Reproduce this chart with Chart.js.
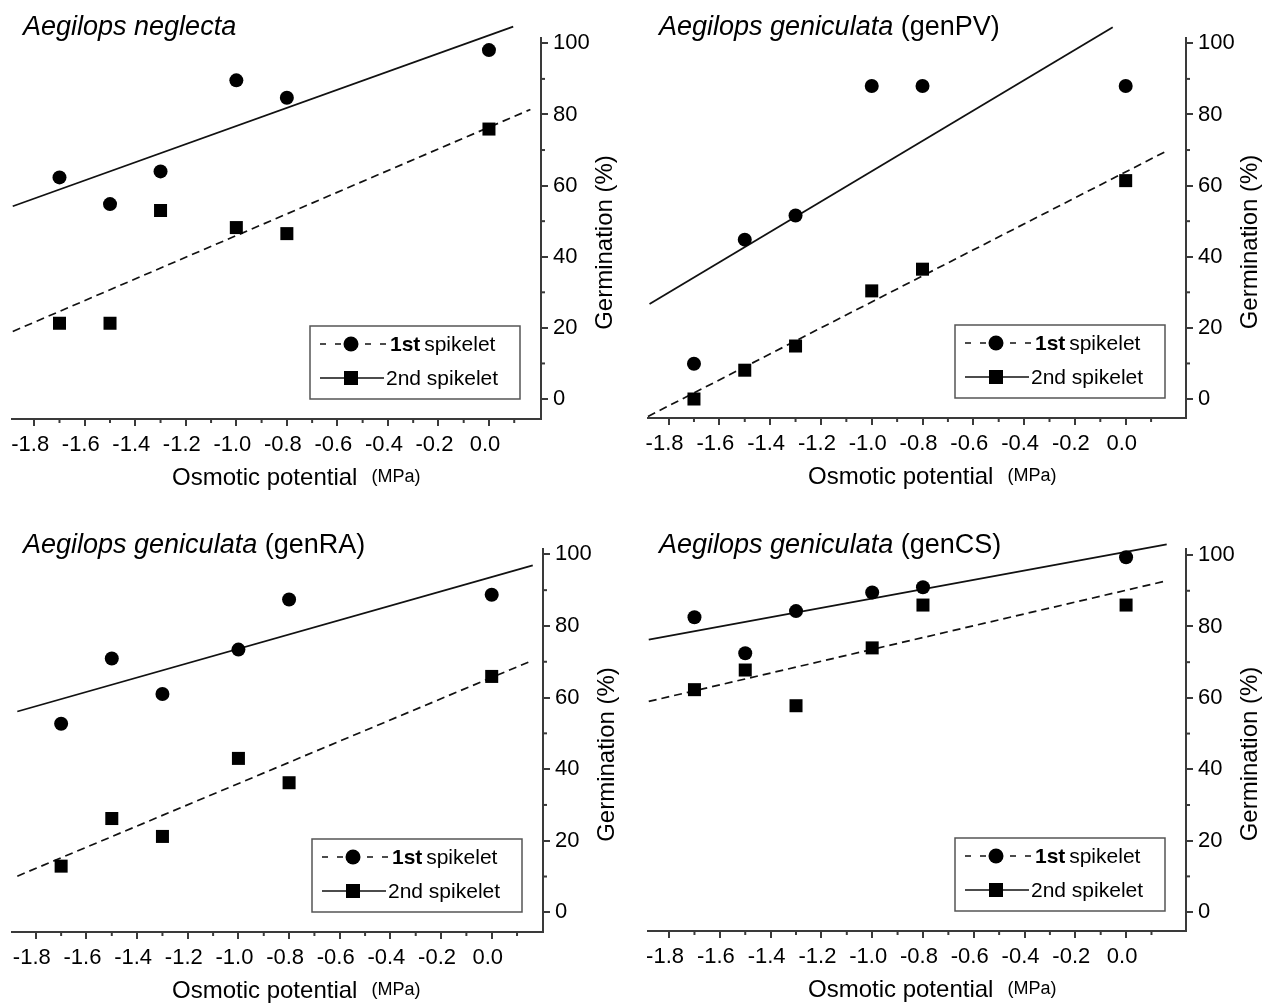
<!DOCTYPE html>
<html>
<head>
<meta charset="utf-8">
<script src="https://cdn.jsdelivr.net/npm/chart.js@4.4.1/dist/chart.umd.min.js"></script>
<style>
    html, body { margin: 0; padding: 0; background: #fff; }
    #wrap { position: relative; width: 1275px; height: 1003px; overflow: hidden; }
    #wrap canvas { position: absolute; left: 0; top: 0; }
</style>
</head>
<body>
<div id="wrap">
    <canvas id="c1" width="1275" height="1003"></canvas>
    <canvas id="c2" width="1275" height="1003"></canvas>
    <canvas id="c3" width="1275" height="1003"></canvas>
    <canvas id="c4" width="1275" height="1003"></canvas>
</div>
<script>
// osmotic potential levels (MPa)
const xValues = [-1.7, -1.5, -1.3, -1.0, -0.8, 0.0];
const xTicks = [-1.8, -1.6, -1.4, -1.2, -1.0, -0.8, -0.6, -0.4, -0.2, 0.0];
const xTickLabels = ['-1.8', '-1.6', '-1.4', '-1.2', '-1.0', '-0.8', '-0.6', '-0.4', '-0.2', '0.0'];
const xMinorTicks = [-1.7, -1.5, -1.3, -1.1, -0.9, -0.7, -0.5, -0.3, -0.1, 0.1];
const yTicks = [0, 20, 40, 60, 80, 100];
const yTickLabels = ['0', '20', '40', '60', '80', '100'];
const yMinorTicks = [10, 30, 50, 70, 90];

// Aegilops neglecta
const neglectaCircles = [62.3, 54.8, 64.0, 89.6, 84.7, 98.1];
const neglectaSquares = [21.3, 21.3, 53.0, 48.2, 46.5, 75.9];
const neglectaSolidFit = [[-1.885, 54.2], [0.096, 104.7]];
const neglectaDashedFit = [[-1.885, 19.0], [0.164, 81.4]];

// Aegilops geniculata (genPV)
const genPVCircles = [9.9, 44.8, 51.6, 88.0, 88.0, 88.0];
const genPVSquares = [0.0, 8.1, 14.9, 30.4, 36.5, 61.4];
const genPVSolidFit = [[-1.875, 26.7], [-0.051, 104.5]];
const genPVDashedFit = [[-1.881, -4.9], [0.160, 69.7]];

// Aegilops geniculata (genRA)
const genRACircles = [52.7, 70.9, 61.0, 73.4, 87.4, 88.7];
const genRASquares = [12.9, 26.2, 21.2, 43.0, 36.2, 65.9];
const genRASolidFit = [[-1.873, 56.1], [0.162, 96.9]];
const genRADashedFit = [[-1.873, 10.1], [0.162, 70.4]];

// Aegilops geniculata (genCS)
const genCSCircles = [82.6, 72.5, 84.3, 89.5, 91.0, 99.4];
const genCSSquares = [62.3, 67.8, 57.8, 74.0, 86.0, 86.0];
const genCSSolidFit = [[-1.880, 76.3], [0.160, 103.0]];
const genCSDashedFit = [[-1.880, 59.0], [0.160, 92.8]];

const FONT = '"Liberation Sans", Arial, Helvetica, sans-serif';
const AXIS = '#3a3a3a';
const INK = '#000';
const W = 1275, H = 1003;
const Y_AXIS_W = 75, X_AXIS_H = 55;

const toPoints = (xs, ys) => xs.map((x, i) => ({ x: x, y: ys[i] }));
const toLine = pairs => pairs.map(p => ({ x: p[0], y: p[1] }));

function line(ctx, x1, y1, x2, y2) {
    ctx.beginPath();
    ctx.moveTo(x1, y1);
    ctx.lineTo(x2, y2);
    ctx.stroke();
}

// minor ticks, titles and the boxed legend
const decorPlugin = {
    id: 'decor',
    afterDraw(chart, args, o) {
        const ctx = chart.ctx;
        const a = chart.chartArea;
        const xs = chart.scales.x, ys = chart.scales.y;
        ctx.save();

        ctx.strokeStyle = AXIS;
        ctx.lineWidth = 2;
        xMinorTicks.forEach(v => {
            const px = xs.getPixelForValue(v);
            line(ctx, px, a.bottom, px, a.bottom + 4);
        });
        yMinorTicks.forEach(v => {
            const py = ys.getPixelForValue(v);
            line(ctx, a.right, py, a.right + 4, py);
        });

        // panel title
        ctx.fillStyle = INK;
        ctx.textAlign = 'left';
        ctx.textBaseline = 'alphabetic';
        ctx.font = 'italic 27px ' + FONT;
        ctx.fillText(o.species, a.left + 11, o.titleY);
        if (o.line) {
            const w = ctx.measureText(o.species + ' ').width;
            ctx.font = '27px ' + FONT;
            ctx.fillText(o.line, a.left + 11 + w, o.titleY);
        }

        // x title
        ctx.font = '24px ' + FONT;
        const xt = 'Osmotic potential';
        ctx.fillText(xt, a.left + 160, a.bottom + 66);
        const xtw = ctx.measureText(xt).width;
        ctx.font = '18px ' + FONT;
        ctx.fillText('(MPa)', a.left + 160 + xtw + 14, a.bottom + 63);

        // y title
        ctx.save();
        ctx.translate(a.right + 64, (a.top + a.bottom) / 2 + 14);
        ctx.rotate(-Math.PI / 2);
        ctx.textAlign = 'center';
        ctx.textBaseline = 'middle';
        ctx.font = '24px ' + FONT;
        ctx.fillText('Germination (%)', 0, 0);
        ctx.restore();

        // legend box
        const bw = 210, bh = 73;
        const bx = a.right - 21 - bw, by = a.bottom - 20 - bh;
        ctx.strokeStyle = '#555';
        ctx.lineWidth = 1.5;
        ctx.strokeRect(bx, by, bw, bh);

        const r1 = by + 18, r2 = by + 52;
        ctx.strokeStyle = '#111';
        ctx.lineWidth = 1.6;
        ctx.setLineDash([6, 9]);
        line(ctx, bx + 10, r1, bx + 76, r1);
        ctx.setLineDash([]);
        ctx.fillStyle = INK;
        ctx.beginPath();
        ctx.arc(bx + 41, r1, 7.5, 0, Math.PI * 2);
        ctx.fill();

        line(ctx, bx + 10, r2, bx + 74, r2);
        ctx.fillRect(bx + 41 - 7, r2 - 7, 14, 14);

        ctx.textBaseline = 'middle';
        ctx.font = 'bold 21px ' + FONT;
        ctx.fillText('1st', bx + 80, r1 + 1);
        const bw1 = ctx.measureText('1st ').width;
        ctx.font = '21px ' + FONT;
        ctx.fillText('spikelet', bx + 80 + bw1 - 2, r1 + 1);
        ctx.fillText('2nd spikelet', bx + 76, r2 + 1);

        ctx.restore();
    }
};

function makePanel(id, area, xr, yr, species, extra, titleY, circles, squares, solidFit, dashedFit) {
    const ctx = document.getElementById(id).getContext('2d');
    return new Chart(ctx, {
        type: 'scatter',
        data: {
            datasets: [
                {
                    label: '1st spikelet',
                    data: toPoints(xValues, circles),
                    pointStyle: 'circle',
                    pointRadius: 7,
                    backgroundColor: INK,
                    borderWidth: 0,
                    order: 1
                },
                {
                    label: '2nd spikelet',
                    data: toPoints(xValues, squares),
                    pointStyle: 'rect',
                    pointRadius: 9.2,
                    backgroundColor: INK,
                    borderWidth: 0,
                    order: 2
                },
                {
                    label: 'fit circles',
                    data: toLine(solidFit),
                    showLine: true,
                    pointRadius: 0,
                    borderColor: '#111',
                    borderWidth: 1.8,
                    clip: false,
                    order: 3
                },
                {
                    label: 'fit squares',
                    data: toLine(dashedFit),
                    showLine: true,
                    pointRadius: 0,
                    borderColor: '#111',
                    borderWidth: 1.7,
                    borderDash: [8, 5],
                    clip: false,
                    order: 4
                }
            ]
        },
        options: {
            responsive: false,
            devicePixelRatio: 1,
            animation: false,
            events: [],
            layout: {
                padding: {
                    left: area[0],
                    top: area[1],
                    right: W - area[2] - Y_AXIS_W,
                    bottom: H - area[3] - X_AXIS_H
                }
            },
            plugins: {
                legend: { display: false },
                tooltip: { enabled: false },
                decor: { species: species, line: extra, titleY: titleY }
            },
            scales: {
                x: {
                    type: 'linear',
                    position: 'bottom',
                    min: xr[0],
                    max: xr[1],
                    afterBuildTicks: s => { s.ticks = xTicks.map(v => ({ value: v })); },
                    afterFit: s => { s.height = X_AXIS_H; },
                    border: { display: true, color: AXIS, width: 2 },
                    grid: { drawOnChartArea: false, drawTicks: true, tickLength: 7, tickColor: AXIS, tickWidth: 2, lineWidth: 2, color: AXIS },
                    ticks: {
                        autoSkip: false,
                        maxRotation: 0,
                        padding: 6,
                        labelOffset: -4,
                        color: INK,
                        font: { family: FONT, size: 22 },
                        callback: (v, i) => xTickLabels[i]
                    }
                },
                y: {
                    type: 'linear',
                    position: 'right',
                    min: yr[0],
                    max: yr[1],
                    afterBuildTicks: s => { s.ticks = yTicks.map(v => ({ value: v })); },
                    afterFit: s => { s.width = Y_AXIS_W; },
                    border: { display: true, color: AXIS, width: 2 },
                    grid: { drawOnChartArea: false, drawTicks: true, tickLength: 7, tickColor: AXIS, tickWidth: 2, lineWidth: 2, color: AXIS },
                    ticks: {
                        padding: 5,
                        color: INK,
                        font: { family: FONT, size: 22 },
                        callback: (v, i) => yTickLabels[i]
                    }
                }
            }
        },
        plugins: [decorPlugin]
    });
}

makePanel('c1', [12, 38, 541, 419], [-1.888, 0.206], [-5.62, 101.5],
    'Aegilops neglecta', '', 35,
    neglectaCircles, neglectaSquares, neglectaSolidFit, neglectaDashedFit);
makePanel('c2', [648, 38, 1186, 418], [-1.881, 0.2375], [-5.34, 101.5],
    'Aegilops geniculata', '(genPV)', 35,
    genPVCircles, genPVSquares, genPVSolidFit, genPVDashedFit);
makePanel('c3', [12, 549, 543, 932], [-1.894, 0.2025], [-5.5, 101.5],
    'Aegilops geniculata', '(genRA)', 553,
    genRACircles, genRASquares, genRASolidFit, genRADashedFit);
makePanel('c4', [648, 549, 1186, 931], [-1.883, 0.236], [-5.3, 101.7],
    'Aegilops geniculata', '(genCS)', 553,
    genCSCircles, genCSSquares, genCSSolidFit, genCSDashedFit);
</script>
</body>
</html>
